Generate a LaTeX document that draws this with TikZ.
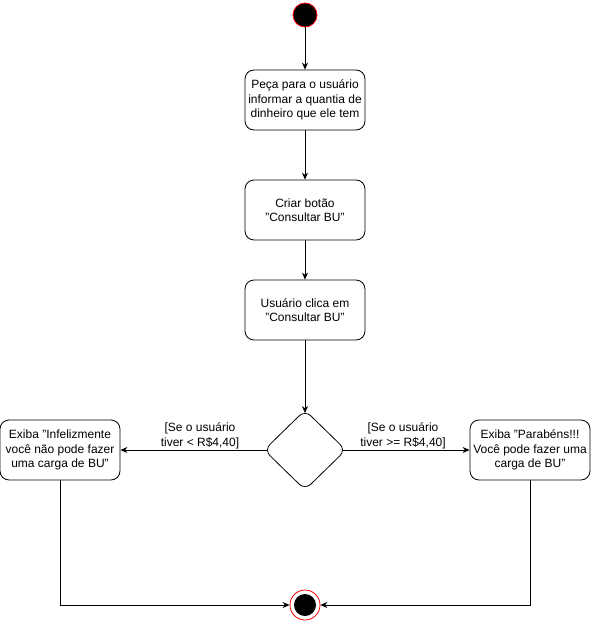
\documentclass[tikz,border=0pt]{standalone}
\usepackage{fontspec}
\setmainfont{Liberation Sans}
\usetikzlibrary{arrows.meta,shapes.geometric}
\begin{document}
\begin{tikzpicture}[x=1pt,y=-1pt,
  font=\fontsize{12}{14.5}\selectfont,
  act/.style={draw,rounded corners=9pt,minimum width=120pt,minimum height=60pt,align=center,inner sep=1pt,line width=0.8pt},
  flow/.style={-{Stealth[length=7pt,width=6pt]},line width=0.8pt},
  guard/.style={align=center,inner sep=0pt}]
\useasboundingbox (0,0) rectangle (591,621);
% start and end states
\node[circle,fill=black,draw=red,line width=0.8pt,minimum size=24pt,inner sep=0pt] (start) at (305,15) {};
\node[circle,draw=red,line width=0.8pt,minimum size=30pt,inner sep=0pt] (endo) at (305,605) {};
\node[circle,fill=black,minimum size=22pt,inner sep=0pt] (endi) at (305,605) {};
% activities
\node[act] (ask) at (305,100) {Peça para o usuário\\informar a quantia de\\dinheiro que ele tem};
\node[act] (btn) at (305,210) {Criar botão\\"Consultar BU"};
\node[act] (clk) at (305,310) {Usuário clica em\\"Consultar BU"};
% decision; the rounded tips sit about 3.5pt inside the sharp anchors
\node[diamond,draw,rounded corners=8pt,line width=0.8pt,minimum width=82pt,minimum height=80pt,inner sep=0pt] (dec) at (305,450) {};
\node[act] (no) at (60,450) {Exiba "Infelizmente\\você não pode fazer\\uma carga de BU"};
\node[act] (yes) at (530,450) {Exiba "Parabéns!!!\\Você pode fazer uma\\carga de BU"};
% guards
\node[guard] (gno) at (200,436) {[Se o usuário\\tiver < R\$4,40]};
\node[guard] (gyes) at (403,436) {[Se o usuário\\tiver >= R\$4,40]};
% connectors
\draw[flow] (start) -- (ask);
\draw[flow] (ask) -- (btn);
\draw[flow] (btn) -- (clk);
\draw[flow,shorten >=-3.5pt] (clk) -- (dec.north);
\draw[flow,shorten <=-3.5pt] (dec.west) -- (no);
\draw[flow,shorten <=-3.5pt] (dec.east) -- (yes);
\draw[flow] (no.south) |- (endo.west);
\draw[flow] (yes.south) |- (endo.east);
\end{tikzpicture}
\end{document}
